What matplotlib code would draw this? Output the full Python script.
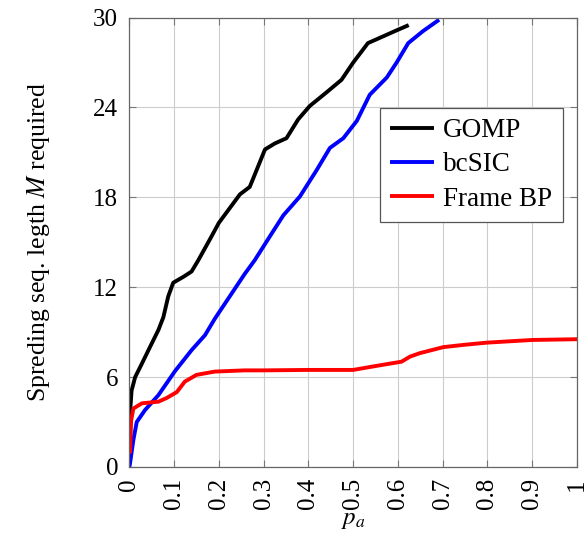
import matplotlib
matplotlib.use("Agg")
import matplotlib.pyplot as plt

plt.rcParams["font.family"] = ["Liberation Serif", "DejaVu Serif"]
plt.rcParams["mathtext.fontset"] = "stix"

# GOMP
gomp_x = [0.0, 0.0016, 0.005, 0.013, 0.028, 0.046, 0.065, 0.076, 0.087, 0.098,
          0.121, 0.139, 0.154, 0.18, 0.2, 0.247, 0.269, 0.284, 0.303, 0.325,
          0.351, 0.377, 0.403, 0.44, 0.474, 0.5, 0.533, 0.567, 0.597, 0.624]
gomp_y = [3.2, 3.6, 5.1, 6.0, 6.9, 8.0, 9.15, 10.0, 11.4, 12.3,
          12.7, 13.05, 13.8, 15.2, 16.3, 18.2, 18.7, 19.8, 21.2, 21.6,
          21.95, 23.2, 24.1, 25.0, 25.85, 27.0, 28.3, 28.75, 29.15, 29.5]

# bcSIC
bcsic_x = [0.0, 0.0016, 0.009, 0.0165, 0.035, 0.065, 0.102, 0.139, 0.169, 0.191,
           0.258, 0.28, 0.314, 0.344, 0.381, 0.418, 0.448, 0.478, 0.508, 0.537,
           0.575, 0.597, 0.623, 0.656, 0.692]
bcsic_y = [0.0, 0.25, 1.8, 3.0, 3.8, 4.8, 6.4, 7.8, 8.8, 9.9,
           12.9, 13.8, 15.4, 16.8, 18.06, 19.8, 21.3, 21.95, 23.1, 24.85,
           26.0, 27.0, 28.3, 29.1, 29.86]

# Frame BP
fbp_x = [0.0, 0.0016, 0.004, 0.009, 0.028, 0.065, 0.083, 0.106, 0.124, 0.15,
         0.191, 0.258, 0.3, 0.4, 0.5, 0.552, 0.608, 0.627, 0.649, 0.701,
         0.746, 0.798, 0.9, 1.0]
fbp_y = [1.0, 1.0, 3.1, 3.9, 4.25, 4.36, 4.6, 5.0, 5.7, 6.15,
         6.37, 6.45, 6.45, 6.48, 6.48, 6.75, 7.03, 7.37, 7.6, 8.0,
         8.15, 8.3, 8.48, 8.53]

fig = plt.figure(figsize=(5.86, 5.34), dpi=100)
ax = fig.add_axes([0.2207, 0.1255, 0.764, 0.8415])

lw = 2.8
style = dict(lw=lw, solid_capstyle="butt", solid_joinstyle="round")
ax.plot(gomp_x, gomp_y, color="black", label="GOMP", **style)
ax.plot(bcsic_x, bcsic_y, color="blue", label="bcSIC", **style)
ax.plot(fbp_x, fbp_y, color="red", label="Frame BP", **style)

ax.set_xlim(0, 1)
ax.set_ylim(0, 30)
ax.set_xticks([0, 0.1, 0.2, 0.3, 0.4, 0.5, 0.6, 0.7, 0.8, 0.9, 1])
ax.set_xticklabels(["0", "0.1", "0.2", "0.3", "0.4", "0.5", "0.6", "0.7", "0.8", "0.9", "1"],
                   rotation=90)
ax.set_yticks([0, 6, 12, 18, 24, 30])
ax.grid(True, color="#cccccc", lw=0.8)
ax.set_axisbelow(True)
ax.tick_params(direction="in", top=True, right=True, length=5, width=0.8,
               color="#777777", labelsize=18, pad=8)
for s in ax.spines.values():
    s.set_color("#666666")
    s.set_linewidth(0.9)

ax.set_xlabel(r"$p_a$", fontsize=18, labelpad=0)
ax.set_ylabel(r"Spreding seq. legth $M$ required", fontsize=18.5, labelpad=30)

leg = ax.legend(loc="upper right", bbox_to_anchor=(0.968, 0.7996), fontsize=19.5,
                fancybox=False, edgecolor="#555555", framealpha=1,
                handlelength=1.6, handletextpad=0.35, borderpad=0.39,
                labelspacing=0.34, borderaxespad=0)
leg.get_frame().set_linewidth(0.9)

fig.savefig("out.png", dpi=100)
